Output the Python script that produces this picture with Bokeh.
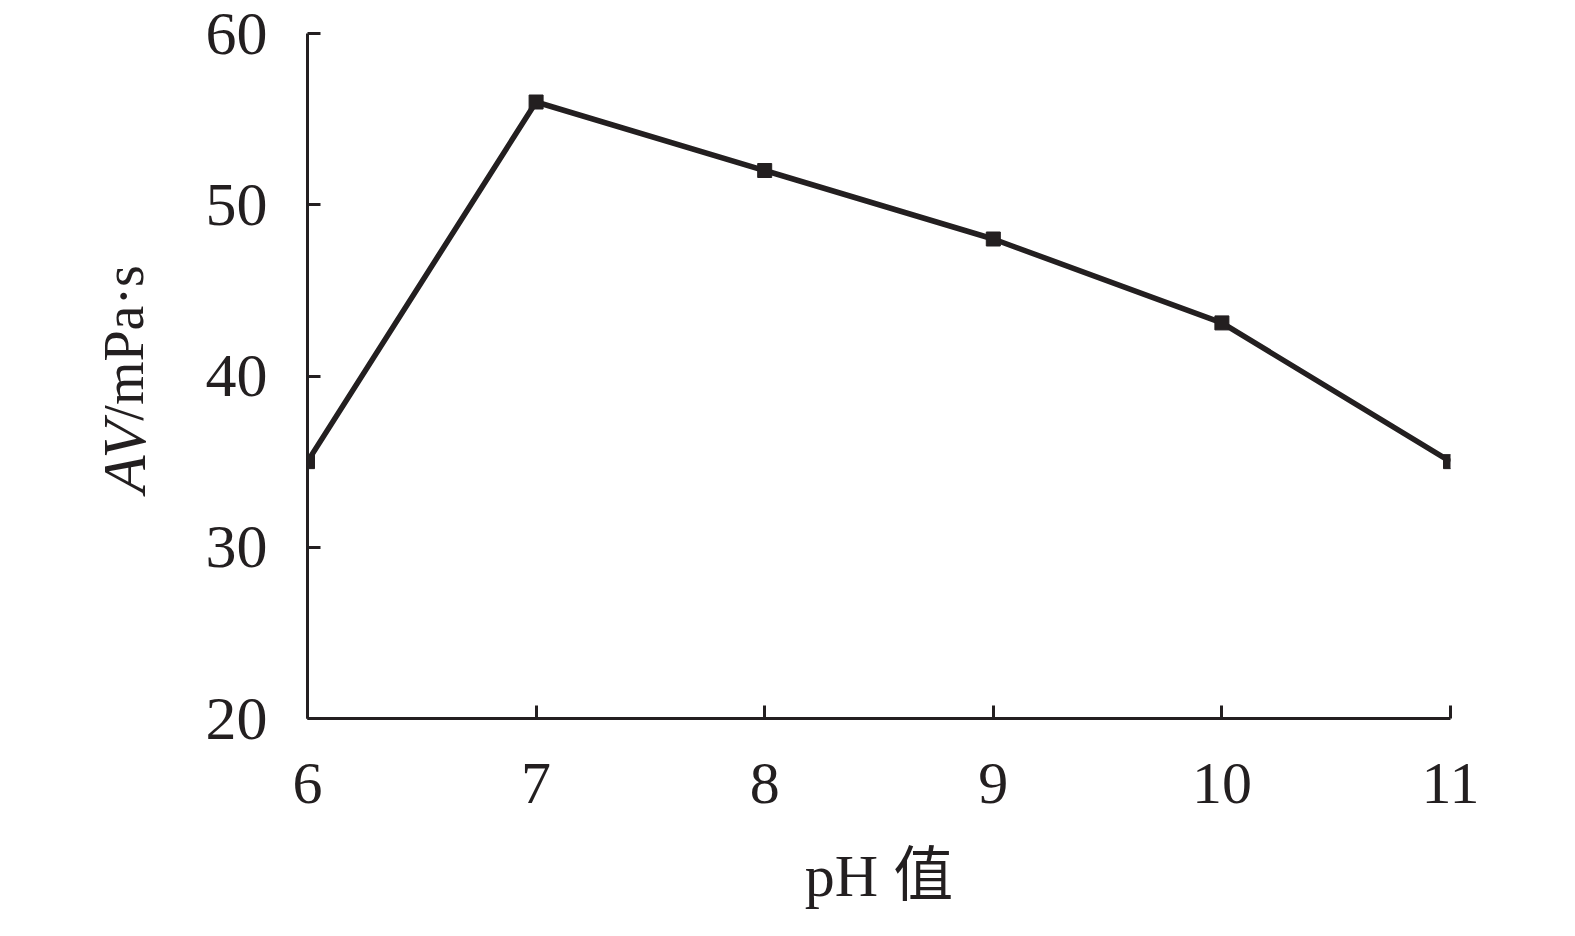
import math
from bokeh.plotting import figure
from bokeh.layouts import row
from bokeh.models import FixedTicker, Range1d, Label
from bokeh.embed import file_html
from bokeh.resources import INLINE

ph = [6, 7, 8, 9, 10, 11]
av = [35, 56, 52, 48, 43.1, 35]
x_ticks = [6, 7, 8, 9, 10, 11]
y_ticks = [20, 30, 40, 50, 60]

INK = "#231f20"
FONT = "Liberation Serif"
H = 920
LW = 180  # width of the strip that carries the y-axis title

# --- strip with the rotated y-axis title (italic AV + upright /mPa·s) ---
t = figure(width=LW, height=H, output_backend="svg", toolbar_location=None,
           x_range=Range1d(0, LW), y_range=Range1d(0, H),
           x_axis_type=None, y_axis_type=None, min_border=0)
t.outline_line_color = None
t.grid.visible = False
t.add_layout(Label(x=123, y=400, text="AV", angle=90, angle_units="deg",
                   text_align="right", text_baseline="alphabetic",
                   text_font=FONT, text_font_size="62px", text_font_style="italic",
                   text_color=INK))
t.add_layout(Label(x=123, y=400, text="/mPa·s", angle=90, angle_units="deg",
                   text_align="left", text_baseline="alphabetic",
                   text_font=FONT, text_font_size="56px",
                   text_color=INK))

# --- main chart ---
p = figure(width=1559 - LW, height=H, output_backend="svg", toolbar_location=None,
           x_range=Range1d(6, 11), y_range=Range1d(20, 60),
           min_border_left=307 - LW, min_border_right=109, min_border_top=33, min_border_bottom=202)
p.outline_line_color = None
p.grid.visible = False
p.background_fill_color = "white"

p.line(ph, av, line_color=INK, line_width=5.5)
p.scatter(ph, av, marker="square", size=14, fill_color=INK, line_color=INK)

for ax in (p.xaxis[0], p.yaxis[0]):
    ax.axis_line_color = INK
    ax.axis_line_width = 3
    ax.major_tick_line_color = INK
    ax.major_tick_line_width = 3
    ax.major_tick_in = 13
    ax.major_tick_out = 0
    ax.minor_tick_line_color = None
    ax.major_label_text_font = FONT
    ax.major_label_text_color = INK

p.xaxis.major_label_text_font_size = "60px"
p.yaxis.major_label_text_font_size = "62px"
p.xaxis.ticker = FixedTicker(ticks=x_ticks)
p.yaxis.ticker = FixedTicker(ticks=y_ticks)
p.xaxis.major_label_standoff = 45
p.yaxis.major_label_standoff = 40

p.xaxis.axis_label = "pH 值"
p.xaxis.axis_label_text_font = "Liberation Serif, Noto Sans CJK SC"
p.xaxis.axis_label_text_font_size = "60px"
p.xaxis.axis_label_text_font_style = "normal"
p.xaxis.axis_label_text_color = INK
p.xaxis.axis_label_standoff = 37

open("out.html", "w").write(file_html(row(t, p, spacing=0), INLINE))
